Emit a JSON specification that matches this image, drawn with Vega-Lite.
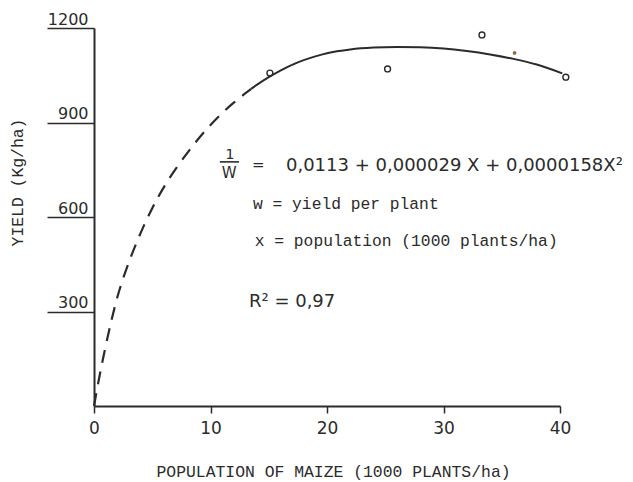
{
  "$schema": "https://vega.github.io/schema/vega-lite/v6.json",
  "width": 466,
  "height": 378,
  "autosize": "none",
  "padding": {"left": 94, "top": 28, "right": 73, "bottom": 76},
  "background": "#ffffff",
  "config": {"view": {"stroke": null}},
  "datasets": {
    "dashed": [
      {"x": 0, "y": 0}, {"x": 0.5, "y": 100}, {"x": 1, "y": 190}, {"x": 1.5, "y": 272},
      {"x": 2, "y": 345}, {"x": 2.5, "y": 405}, {"x": 3, "y": 457}, {"x": 4, "y": 549},
      {"x": 5, "y": 628}, {"x": 6, "y": 695}, {"x": 7, "y": 752}, {"x": 8, "y": 803},
      {"x": 9, "y": 850}, {"x": 10, "y": 892}, {"x": 11, "y": 930}, {"x": 12, "y": 963},
      {"x": 13, "y": 993}, {"x": 13.5, "y": 1007}
    ],
    "solid": [
      {"x": 13.5, "y": 1007}, {"x": 14, "y": 1020}, {"x": 15, "y": 1044}, {"x": 16, "y": 1065},
      {"x": 17, "y": 1083}, {"x": 18, "y": 1098}, {"x": 19, "y": 1110}, {"x": 20, "y": 1120},
      {"x": 22, "y": 1132}, {"x": 24, "y": 1138}, {"x": 26, "y": 1140}, {"x": 28, "y": 1139},
      {"x": 30, "y": 1135}, {"x": 32, "y": 1127}, {"x": 34, "y": 1116}, {"x": 36, "y": 1102},
      {"x": 38, "y": 1084}, {"x": 40.2, "y": 1056}
    ],
    "observed": [
      {"x": 15.1, "y": 1057}, {"x": 25.2, "y": 1070}, {"x": 33.3, "y": 1178}, {"x": 40.5, "y": 1044}
    ],
    "extra": [{"x": 36.1, "y": 1121}],
    "equation": [{"x": 16.48, "y": 746, "t": "0,0113 + 0,000029 X + 0,0000158X²"}],
    "fraction_top": [{"x": 11.67, "y": 784, "t": "1"}],
    "fraction_rest": [
      {"x": 11.6, "y": 724, "t": "W"},
      {"x": 14.1, "y": 748, "t": "="}
    ],
    "bar": [{"x": 10.8, "x2": 12.45, "y": 775}],
    "notes": [
      {"x": 13.65, "y": 625, "t": "w = yield per plant"},
      {"x": 13.8, "y": 508, "t": "x = population (1000 plants/ha)"}
    ],
    "r2": [{"x": 13.3, "y": 314, "t": "R² = 0,97"}]
  },
  "encoding": {
    "x": {
      "field": "x", "type": "quantitative",
      "scale": {"domain": [0, 40], "nice": false},
      "axis": {
        "values": [0, 10, 20, 30, 40],
        "format": "d",
        "grid": false,
        "domainColor": "#2b2b2b", "domainWidth": 2,
        "tickColor": "#2b2b2b", "tickWidth": 1.5, "tickSize": 7,
        "labelFont": "DejaVu Sans", "labelFontSize": 17, "labelColor": "#2b2b2b",
        "labelPadding": 7, "labelFlush": false, "labelOverlap": false,
        "title": "POPULATION OF MAIZE (1000 PLANTS/ha)",
        "titleFont": "Liberation Mono", "titleFontSize": 16.4, "titleFontWeight": "normal",
        "titleColor": "#2b2b2b",
        "titleX": 239, "titleY": 70, "titleAlign": "center", "titleBaseline": "alphabetic"
      }
    },
    "y": {
      "field": "y", "type": "quantitative",
      "scale": {"domain": [0, 1200], "nice": false},
      "axis": {
        "values": [300, 600, 900, 1200],
        "format": "d",
        "grid": false,
        "domainColor": "#2b2b2b", "domainWidth": 2,
        "tickColor": "#2b2b2b", "tickWidth": 1.5, "tickSize": 47,
        "labelFont": "DejaVu Sans", "labelFontSize": 16, "labelColor": "#2b2b2b",
        "labelPadding": -41, "labelAlign": "right", "labelBaseline": "alphabetic",
        "labelOffset": -4, "labelFlush": false, "labelOverlap": false,
        "title": "YIELD (Kg/ha)",
        "titleFont": "Liberation Mono", "titleFontSize": 16.4, "titleFontWeight": "normal",
        "titleColor": "#2b2b2b", "titleAngle": -90,
        "titleX": -77, "titleY": 154, "titleAlign": "center", "titleBaseline": "middle"
      }
    }
  },
  "layer": [
    {
      "data": {"name": "dashed"},
      "mark": {"type": "line", "interpolate": "monotone", "color": "#2b2b2b", "strokeWidth": 2.2, "strokeDash": [13, 9]}
    },
    {
      "data": {"name": "solid"},
      "mark": {"type": "line", "interpolate": "monotone", "color": "#2b2b2b", "strokeWidth": 2}
    },
    {
      "data": {"name": "observed"},
      "mark": {"type": "point", "shape": "circle", "filled": false, "size": 35, "stroke": "#2b2b2b", "strokeWidth": 1.4, "opacity": 1}
    },
    {
      "data": {"name": "extra"},
      "mark": {"type": "point", "shape": "circle", "filled": true, "size": 14, "color": "#8f6a3c", "opacity": 1}
    },
    {
      "data": {"name": "equation"},
      "mark": {"type": "text", "font": "DejaVu Sans", "fontSize": 18, "align": "left", "baseline": "alphabetic", "color": "#2b2b2b"},
      "encoding": {"text": {"field": "t"}}
    },
    {
      "data": {"name": "fraction_top"},
      "mark": {"type": "text", "font": "DejaVu Sans", "fontSize": 14, "align": "center", "baseline": "alphabetic", "color": "#2b2b2b"},
      "encoding": {"text": {"field": "t"}}
    },
    {
      "data": {"name": "fraction_rest"},
      "mark": {"type": "text", "font": "DejaVu Sans", "fontSize": 15, "align": "center", "baseline": "alphabetic", "color": "#2b2b2b"},
      "encoding": {"text": {"field": "t"}}
    },
    {
      "data": {"name": "bar"},
      "mark": {"type": "rule", "color": "#2b2b2b", "strokeWidth": 1.6},
      "encoding": {"x2": {"field": "x2"}}
    },
    {
      "data": {"name": "notes"},
      "mark": {"type": "text", "font": "Liberation Mono", "fontSize": 16.3, "align": "left", "baseline": "alphabetic", "color": "#2b2b2b"},
      "encoding": {"text": {"field": "t"}}
    },
    {
      "data": {"name": "r2"},
      "mark": {"type": "text", "font": "DejaVu Sans", "fontSize": 18, "align": "left", "baseline": "alphabetic", "color": "#2b2b2b"},
      "encoding": {"text": {"field": "t"}}
    }
  ]
}
